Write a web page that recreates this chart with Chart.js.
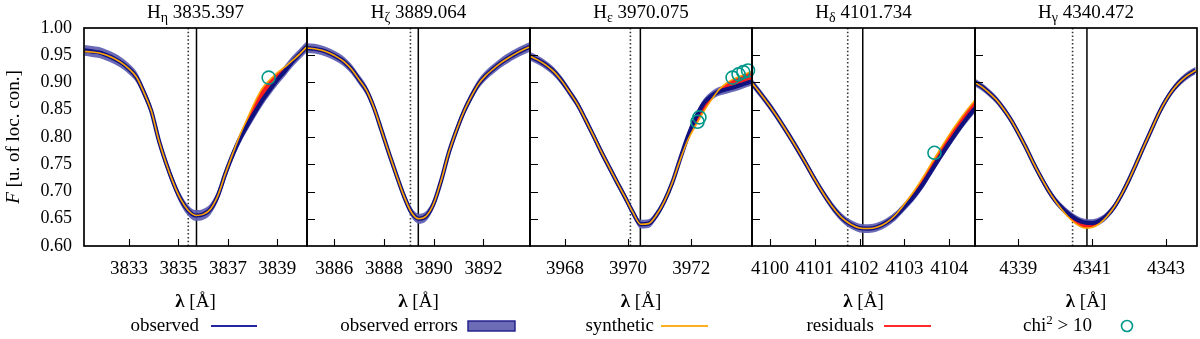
<!DOCTYPE html>
<html>
<head>
<meta charset="utf-8">
<script src="https://cdn.jsdelivr.net/npm/chart.js@4.4.1/dist/chart.umd.min.js"></script>
<style>
html,body{margin:0;padding:0;background:#ffffff;}
#fig{position:relative;width:1200px;height:339px;overflow:hidden;background:#ffffff;}
#fig canvas{position:absolute;top:0;}
</style>
</head>
<body>
<div id="fig"></div>
<script>
// ---------------- data ----------------
const lineLetters = ['η', 'ζ', 'ε', 'δ', 'γ'];
const restWavelengths = [3835.397, 3889.064, 3970.075, 4101.734, 4340.472];
const lineCentres = [3835.73, 3889.38, 3970.39, 4102.07, 4340.86];
const xMins = [3831.18, 3884.90, 3966.895, 4099.597, 4337.833];
const xMaxs = [3840.20, 3893.876, 3973.926, 4104.576, 4343.836];
const xTicks1 = [3833, 3835, 3837, 3839];
const xTicks2 = [3886, 3888, 3890, 3892];
const xTicks3 = [3968, 3970, 3972];
const xTicks4 = [4100, 4101, 4102, 4103, 4104];
const xTicks5 = [4339, 4341, 4343];
const yTickValues = [0.60, 0.65, 0.70, 0.75, 0.80, 0.85, 0.90, 0.95, 1.00];
const yTickLabels = ['0.60', '0.65', '0.70', '0.75', '0.80', '0.85', '0.90', '0.95', '1.00'];
const obsErrors = [0.010, 0.009, 0.008, 0.008, 0.007];
const legendLabels = ['observed', 'observed errors', 'synthetic', 'residuals', 'chi2 > 10'];

// H eta
const lam1 = [3831.2,3831.5,3831.8,3832.1,3832.4,3832.7,3833.0,3833.3,3833.6,3833.9,3834.2,3834.5,3834.8,3835.1,3835.4,3835.7,3836.0,3836.3,3836.6,3836.9,3837.2,3837.5,3837.8,3838.1,3838.4,3838.7,3839.0,3839.3,3839.6,3839.9,3840.2];
const syn1 = [0.957,0.956,0.954,0.950,0.944,0.936,0.925,0.910,0.882,0.848,0.795,0.752,0.715,0.685,0.665,0.656,0.658,0.668,0.693,0.733,0.770,0.805,0.835,0.865,0.890,0.905,0.918,0.928,0.940,0.952,0.966];
const obs1 = [0.959,0.957,0.955,0.950,0.944,0.936,0.925,0.910,0.882,0.848,0.795,0.752,0.715,0.685,0.665,0.656,0.658,0.668,0.693,0.733,0.768,0.798,0.823,0.846,0.868,0.887,0.905,0.921,0.938,0.952,0.966];
// H zeta
const lam2 = [3884.9,3885.2,3885.5,3885.8,3886.1,3886.4,3886.7,3887.0,3887.3,3887.6,3887.9,3888.2,3888.5,3888.8,3889.1,3889.4,3889.7,3890.0,3890.3,3890.6,3890.9,3891.2,3891.5,3891.8,3892.1,3892.4,3892.7,3893.0,3893.3,3893.6,3893.9];
const syn2 = [0.963,0.962,0.959,0.954,0.947,0.938,0.924,0.905,0.885,0.853,0.812,0.770,0.730,0.692,0.662,0.650,0.655,0.678,0.720,0.770,0.810,0.845,0.873,0.897,0.913,0.925,0.936,0.945,0.953,0.960,0.966];
const obs2 = [0.963,0.962,0.959,0.954,0.947,0.938,0.924,0.905,0.885,0.853,0.812,0.770,0.730,0.692,0.662,0.650,0.655,0.678,0.720,0.770,0.810,0.845,0.873,0.897,0.913,0.925,0.936,0.945,0.953,0.960,0.966];
// H epsilon
const lam3 = [3966.9,3967.15,3967.4,3967.65,3967.9,3968.15,3968.4,3968.65,3968.9,3969.15,3969.4,3969.65,3969.9,3970.15,3970.4,3970.65,3970.9,3971.15,3971.4,3971.65,3971.9,3972.15,3972.4,3972.65,3972.9,3973.15,3973.4,3973.65,3973.9];
const syn3 = [0.948,0.941,0.932,0.920,0.903,0.882,0.860,0.832,0.803,0.773,0.745,0.717,0.690,0.662,0.640,0.641,0.657,0.682,0.716,0.758,0.795,0.822,0.847,0.869,0.888,0.900,0.908,0.914,0.920];
const obs3 = [0.948,0.941,0.932,0.920,0.903,0.882,0.860,0.832,0.803,0.773,0.745,0.717,0.690,0.662,0.640,0.641,0.657,0.682,0.716,0.760,0.802,0.836,0.862,0.876,0.884,0.888,0.892,0.897,0.902];
// H delta
const lam4 = [4099.6,4099.8,4100.0,4100.2,4100.4,4100.6,4100.8,4101.0,4101.2,4101.4,4101.6,4101.8,4102.0,4102.2,4102.4,4102.6,4102.8,4103.0,4103.2,4103.4,4103.6,4103.8,4104.0,4104.2,4104.4,4104.6];
const syn4 = [0.899,0.878,0.856,0.832,0.806,0.779,0.751,0.722,0.695,0.671,0.652,0.640,0.633,0.632,0.635,0.643,0.657,0.677,0.699,0.724,0.751,0.778,0.804,0.828,0.850,0.870];
const obs4 = [0.899,0.878,0.856,0.832,0.806,0.779,0.751,0.722,0.695,0.671,0.652,0.640,0.633,0.632,0.635,0.643,0.655,0.672,0.690,0.712,0.738,0.764,0.789,0.813,0.835,0.855];
// H gamma
const lam5 = [4337.8,4338.0,4338.2,4338.4,4338.6,4338.8,4339.0,4339.2,4339.4,4339.6,4339.8,4340.0,4340.2,4340.4,4340.6,4340.8,4341.0,4341.2,4341.4,4341.6,4341.8,4342.0,4342.2,4342.4,4342.6,4342.8,4343.0,4343.2,4343.4,4343.6,4343.8];
const syn5 = [0.901,0.893,0.882,0.869,0.852,0.832,0.808,0.782,0.754,0.728,0.704,0.683,0.665,0.650,0.639,0.633,0.634,0.641,0.654,0.672,0.695,0.722,0.752,0.783,0.813,0.843,0.868,0.888,0.903,0.914,0.922];
const obs5 = [0.901,0.893,0.882,0.869,0.852,0.832,0.808,0.782,0.754,0.728,0.704,0.684,0.669,0.657,0.648,0.643,0.642,0.646,0.656,0.672,0.695,0.722,0.752,0.783,0.813,0.843,0.868,0.888,0.903,0.914,0.922];
// chi^2 > 10 points
const chiLam1 = [3838.65];
const chiFlux1 = [0.909];
const chiLam2 = [];
const chiFlux2 = [];
const chiLam3 = [3972.20, 3972.26, 3973.31, 3973.50, 3973.65, 3973.80];
const chiFlux3 = [0.828, 0.836, 0.909, 0.915, 0.919, 0.922];
const chiLam4 = [4103.67];
const chiFlux4 = [0.771];
const chiLam5 = [];
const chiFlux5 = [];

// ---------------- assembly ----------------
const panels = [
  {lam: lam1, syn: syn1, obs: obs1, ticks: xTicks1, chiLam: chiLam1, chiFlux: chiFlux1},
  {lam: lam2, syn: syn2, obs: obs2, ticks: xTicks2, chiLam: chiLam2, chiFlux: chiFlux2},
  {lam: lam3, syn: syn3, obs: obs3, ticks: xTicks3, chiLam: chiLam3, chiFlux: chiFlux3},
  {lam: lam4, syn: syn4, obs: obs4, ticks: xTicks4, chiLam: chiLam4, chiFlux: chiFlux4},
  {lam: lam5, syn: syn5, obs: obs5, ticks: xTicks5, chiLam: chiLam5, chiFlux: chiFlux5}
];

const BOUND = [84, 307, 530, 752, 975, 1197];
const PAD = 24;
const FONT = "'Liberation Serif', 'Times New Roman', serif";
const C_OBS = '#12127f';
const C_ERR = 'rgba(92,92,176,0.92)';
const C_SYN = '#ffa500';
const C_RES = '#ff1e1e';
const C_CHI = '#00978a';
const LEG_TEXT_END = [199, 458, 654, 874, 1092];
const LEG_Y = 331;

const decor = {
  id: 'decor',
  afterDatasetsDraw(chart, args, o) {
    const ctx = chart.ctx, a = chart.chartArea, xs = chart.scales.x, ys = chart.scales.y;
    ctx.save();
    ctx.strokeStyle = '#000';
    ctx.lineWidth = 1.1;
    ctx.beginPath();
    o.ticks.forEach(v => {
      const px = Math.round(xs.getPixelForValue(v)) + 0.5;
      ctx.moveTo(px, a.bottom);
      ctx.lineTo(px, a.bottom - 7);
    });
    if (o.index > 0) {
      yTickValues.forEach(v => {
        if (v > 0.6 && v < 1.0) {
          const py = Math.round(ys.getPixelForValue(v)) + 0.5;
          ctx.moveTo(a.left, py);
          ctx.lineTo(a.left + 8, py);
        }
      });
    }
    ctx.stroke();
    ctx.lineWidth = 1.7;
    ctx.strokeStyle = '#000';
    ctx.strokeRect(a.left, a.top, a.right - a.left, a.bottom - a.top);
    ctx.restore();
  },
  afterDraw(chart, args, o) {
    const ctx = chart.ctx, a = chart.chartArea;
    const cx = (a.left + a.right) / 2;
    ctx.save();
    ctx.fillStyle = '#000';
    ctx.textBaseline = 'alphabetic';
    // title  H_letter wavelength
    const big = '19px ' + FONT, sub = '14px ' + FONT;
    const rest = ' ' + restWavelengths[o.index].toFixed(3);
    ctx.font = big; const wH = ctx.measureText('H').width; const wR = ctx.measureText(rest).width;
    ctx.font = sub; const wS = ctx.measureText(lineLetters[o.index]).width;
    let x0 = cx - (wH + wS + wR) / 2;
    ctx.textAlign = 'left';
    ctx.font = big; ctx.fillText('H', x0, 18);
    ctx.font = sub; ctx.fillText(lineLetters[o.index], x0 + wH, 22);
    ctx.font = big; ctx.fillText(rest, x0 + wH + wS, 18);
    // x axis title
    const lamF = 'bold 19px ' + FONT, regF = '19px ' + FONT;
    ctx.font = lamF; const wl = ctx.measureText('λ').width;
    ctx.font = regF; const wb = ctx.measureText(' [Å]').width;
    x0 = cx - (wl + wb) / 2;
    ctx.font = lamF; ctx.fillText('λ', x0, 307);
    ctx.font = regF; ctx.fillText(' [Å]', x0 + wl, 307);
    // y axis title (first panel only)
    if (o.index === 0) {
      ctx.save();
      ctx.translate(19, (a.top + a.bottom) / 2);
      ctx.rotate(-Math.PI / 2);
      const fI = 'italic 19px ' + FONT;
      ctx.font = fI; const wF = ctx.measureText('F').width;
      ctx.font = regF; const wT = ctx.measureText(' [u. of loc. con.]').width;
      const s = -(wF + wT) / 2;
      ctx.font = fI; ctx.fillText('F', s, 0);
      ctx.font = regF; ctx.fillText(' [u. of loc. con.]', s + wF, 0);
      ctx.restore();
    }
    // legend entry
    const te = LEG_TEXT_END[o.index] - o.offset;
    const lf = '19px ' + FONT;
    ctx.font = lf;
    ctx.textAlign = 'right';
    if (o.index === 4) {
      const parts = legendLabels[4].split('2');
      ctx.font = lf; const w2 = ctx.measureText(parts[1]).width;
      ctx.fillText(parts[1], te, LEG_Y);
      ctx.font = '13px ' + FONT; const ws = ctx.measureText('2').width;
      ctx.fillText('2', te - w2, LEG_Y - 7);
      ctx.font = lf; ctx.fillText(parts[0], te - w2 - ws, LEG_Y);
    } else {
      ctx.fillText(legendLabels[o.index], te, LEG_Y);
    }
    const sx = te + 10, sy = LEG_Y - 5;
    ctx.lineWidth = 2;
    if (o.index === 0) { ctx.strokeStyle = '#2424a0'; ctx.beginPath(); ctx.moveTo(sx + 2, sy); ctx.lineTo(sx + 48, sy); ctx.stroke(); }
    if (o.index === 1) { ctx.fillStyle = '#6b6bb6'; ctx.fillRect(sx, sy - 5, 47, 10); ctx.strokeStyle = '#1a1a8a'; ctx.lineWidth = 1.4; ctx.strokeRect(sx, sy - 5, 47, 10); }
    if (o.index === 2) { ctx.strokeStyle = '#ffb020'; ctx.beginPath(); ctx.moveTo(sx - 3, sy); ctx.lineTo(sx + 44, sy); ctx.stroke(); }
    if (o.index === 3) { ctx.strokeStyle = '#ff2a2a'; ctx.beginPath(); ctx.moveTo(sx, sy); ctx.lineTo(sx + 47, sy); ctx.stroke(); }
    if (o.index === 4) { ctx.strokeStyle = C_CHI; ctx.lineWidth = 1.6; ctx.beginPath(); ctx.arc(sx + 25, sy, 5.5, 0, Math.PI * 2); ctx.stroke(); }
    ctx.restore();
  }
};

const fig = document.getElementById('fig');
const pts = (xs, ys) => xs.map((x, k) => ({x: x, y: ys[k]}));

panels.forEach((p, i) => {
  const first = i === 0, last = i === 4;
  const left = first ? 0 : BOUND[i] - PAD;
  const right = last ? 1200 : BOUND[i + 1] + PAD;
  const cv = document.createElement('canvas');
  cv.width = right - left; cv.height = 339;
  cv.style.left = left + 'px';
  cv.style.width = (right - left) + 'px';
  cv.style.height = '339px';
  fig.appendChild(cv);
  const err = obsErrors[i];
  const lower = p.obs.map(v => v - err);
  const upper = p.obs.map(v => v + err);
  const common = {pointRadius: 0, cubicInterpolationMode: 'monotone', clip: 0};
  new Chart(cv, {
    type: 'line',
    data: {
      datasets: [
        Object.assign({label: 'observed', data: pts(p.lam, p.obs), borderColor: C_OBS, borderWidth: 4.2, fill: false, order: 5}, common),
        Object.assign({label: 'err-low', data: pts(p.lam, lower), borderWidth: 0, borderColor: 'rgba(0,0,0,0)', fill: false, order: 8}, common),
        Object.assign({label: 'observed errors', data: pts(p.lam, upper), borderWidth: 0, borderColor: 'rgba(0,0,0,0)', fill: 1, backgroundColor: C_ERR, order: 7}, common),
        Object.assign({label: 'residuals', data: pts(p.lam, p.syn), borderWidth: 0, borderColor: 'rgba(0,0,0,0)', fill: 0, backgroundColor: C_RES, order: 6}, common),
        Object.assign({label: 'synthetic', data: pts(p.lam, p.syn), borderColor: C_SYN, borderWidth: 1.6, fill: false, order: 4}, common),
        {label: 'rest', data: [{x: restWavelengths[i], y: 0.6}, {x: restWavelengths[i], y: 1.0}], borderColor: '#333', borderDash: [1.5, 2.3], borderWidth: 1.6, pointRadius: 0, fill: false, order: 10},
        {label: 'centre', data: [{x: lineCentres[i], y: 0.6}, {x: lineCentres[i], y: 1.0}], borderColor: '#000', borderWidth: 1.5, pointRadius: 0, fill: false, order: 9},
        {label: 'chi2 > 10', data: pts(p.chiLam, p.chiFlux), showLine: false, pointRadius: 6.5, pointStyle: 'circle', pointBorderColor: C_CHI, pointBackgroundColor: 'rgba(0,0,0,0)', pointBorderWidth: 1.6, order: 1, clip: false}
      ]
    },
    options: {
      responsive: false,
      animation: false,
      devicePixelRatio: 1,
      events: [],
      layout: {padding: {left: first ? 0 : PAD, right: last ? 3 : PAD, top: 28, bottom: 0}},
      plugins: {
        legend: {display: false},
        tooltip: {enabled: false},
        decor: {index: i, ticks: p.ticks, offset: left}
      },
      scales: {
        x: {
          type: 'linear', position: 'bottom', min: xMins[i], max: xMaxs[i],
          afterBuildTicks: s => { s.ticks = p.ticks.map(v => ({value: v})); },
          afterFit: s => { s.height = 93; },
          grid: {display: false, drawTicks: false},
          border: {display: false},
          ticks: {autoSkip: false, maxRotation: 0, minRotation: 0, padding: 12, color: '#000',
                  font: {family: FONT, size: 19}, callback: (v) => String(v)}
        },
        y: {
          type: 'linear', position: 'left', min: 0.6, max: 1.0, display: first,
          afterBuildTicks: s => { s.ticks = yTickValues.map(v => ({value: v})); },
          afterFit: s => { s.width = first ? 84 : 0; },
          grid: {display: false, drawTicks: false},
          border: {display: false},
          ticks: {padding: 12, color: '#000', font: {family: FONT, size: 18},
                  callback: (v, k) => yTickLabels[k]}
        }
      }
    },
    plugins: [decor]
  });
});
</script>
</body>
</html>
